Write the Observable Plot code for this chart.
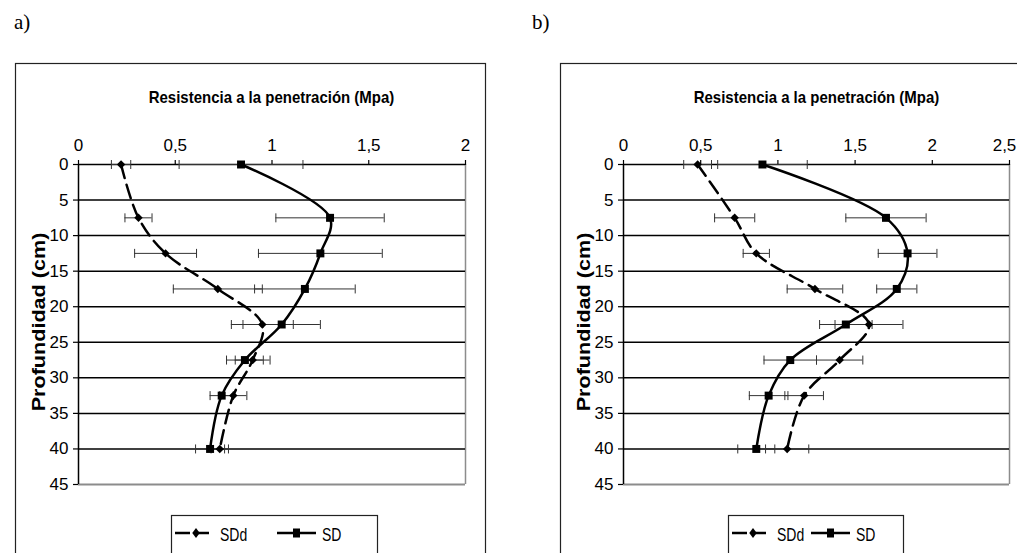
<!DOCTYPE html>
<html>
<head>
<meta charset="utf-8">
<script src="https://cdn.jsdelivr.net/npm/d3@7"></script>
<script src="https://cdn.jsdelivr.net/npm/@observablehq/plot@0.6"></script>
<style>
  body { margin: 0; background: #fff; }
  #page { position: relative; width: 1017px; height: 553px; overflow: hidden; background: #fff; }
  #page > svg { position: absolute; top: 0; }
  #overlay { left: 0; pointer-events: none; }
</style>
</head>
<body>
<div id="page"></div>
<script>
// ---- data ----
const depths = [0, 7.5, 12.5, 17.5, 22.5, 27.5, 32.5, 40];
const yTicks = [0, 5, 10, 15, 20, 25, 30, 35, 40, 45];
const xTicksA = [0, 0.5, 1, 1.5, 2];
const xTicksB = [0, 0.5, 1, 1.5, 2, 2.5];

// panel a)
const aSDd    = [0.22, 0.31, 0.45, 0.72, 0.95, 0.90, 0.80, 0.73];
const aSDdErr = [0.05, 0.07, 0.16, 0.23, 0.16, 0.09, 0.07, 0.045];
const aSD     = [0.84, 1.30, 1.25, 1.17, 1.05, 0.86, 0.74, 0.68];
const aSDErr  = [0.32, 0.28, 0.32, 0.26, 0.20, 0.095, 0.06, 0.075];

// panel b)
const bSDd    = [0.48, 0.72, 0.86, 1.24, 1.59, 1.40, 1.17, 1.06];
const bSDdErr = [0.09, 0.13, 0.085, 0.18, 0.22, 0.15, 0.125, 0.14];
const bSD     = [0.90, 1.70, 1.84, 1.77, 1.44, 1.08, 0.94, 0.86];
const bSDErr  = [0.29, 0.26, 0.19, 0.13, 0.17, 0.17, 0.125, 0.12];

const titleText = "Resistencia a la penetración (Mpa)";
const yLabelText = "Profundidad (cm)";
const seriesNames = ["SDd", "SD"];

// vertical cap symbol for error bars
const capSymbol = {
  draw(context, size) {
    const h = Math.sqrt(size / Math.PI);
    context.moveTo(0, -h);
    context.lineTo(0, h);
  }
};

const fmt = d => String(d).replace(".", ",");

function panel({xDomain, xTicks, sdd, sddErr, sd, sdErr, width, marginLeft, marginRight, lastLabelDx}) {
  const rows = depths.map((d, i) => ({
    depth: d,
    sdd: sdd[i], sddLo: sdd[i] - sddErr[i], sddHi: sdd[i] + sddErr[i],
    sd: sd[i], sdLo: sd[i] - sdErr[i], sdHi: sd[i] + sdErr[i]
  }));
  const yMax = yTicks[yTicks.length - 1];
  const lastTick = xTicks[xTicks.length - 1];
  const errStroke = "#333";
  return Plot.plot({
    width, height: 553,
    marginLeft, marginRight, marginTop: 164, marginBottom: 69,
    style: {background: "transparent", fontFamily: "'Liberation Sans', Arial, sans-serif", fontSize: "17px", color: "#000", overflow: "visible"},
    x: {domain: xDomain},
    y: {domain: [0, yMax], reverse: true},
    marks: [
      // plot-area borders
      Plot.ruleX([xDomain[1]], {stroke: "#8c8c8c", strokeWidth: 1.5}),
      Plot.ruleY([yMax], {stroke: "#8c8c8c", strokeWidth: 2}),
      // horizontal gridlines
      Plot.ruleY(yTicks.slice(0, -1), {stroke: "#000", strokeWidth: 1.5}),
      Plot.ruleX([xDomain[0]], {stroke: "#000", strokeWidth: 1.5}),
      Plot.axisX({anchor: "top", ticks: xTicks, tickFormat: d => (lastLabelDx && d === lastTick) ? "" : fmt(d),
        tickSize: 5, tickPadding: 9, label: null, strokeWidth: 1.2}),
      lastLabelDx ? Plot.axisX({anchor: "top", ticks: [lastTick], tickFormat: fmt, tickSize: 0, tickPadding: 14,
        dx: lastLabelDx, label: null}) : null,
      Plot.axisY({ticks: yTicks, tickSize: 5, tickPadding: 5, label: null, strokeWidth: 1.2}),
      // error bars
      Plot.ruleY(rows, {y: "depth", x1: "sddLo", x2: "sddHi", stroke: errStroke, strokeWidth: 1}),
      Plot.ruleY(rows, {y: "depth", x1: "sdLo", x2: "sdHi", stroke: errStroke, strokeWidth: 1}),
      Plot.dot(rows, {x: "sddLo", y: "depth", symbol: capSymbol, r: 4.5, stroke: errStroke, strokeWidth: 1, fill: "none"}),
      Plot.dot(rows, {x: "sddHi", y: "depth", symbol: capSymbol, r: 4.5, stroke: errStroke, strokeWidth: 1, fill: "none"}),
      Plot.dot(rows, {x: "sdLo", y: "depth", symbol: capSymbol, r: 4.5, stroke: errStroke, strokeWidth: 1, fill: "none"}),
      Plot.dot(rows, {x: "sdHi", y: "depth", symbol: capSymbol, r: 4.5, stroke: errStroke, strokeWidth: 1, fill: "none"}),
      // series lines
      Plot.line(rows, {x: "sdd", y: "depth", curve: "catmull-rom", stroke: "#000", strokeWidth: 2.5, strokeDasharray: "14,7"}),
      Plot.line(rows, {x: "sd", y: "depth", curve: "catmull-rom", stroke: "#000", strokeWidth: 2.5}),
      // markers
      Plot.dot(rows, {x: "sdd", y: "depth", symbol: "diamond2", r: 3.8, fill: "#000", stroke: "none"}),
      Plot.dot(rows, {x: "sd", y: "depth", symbol: "square", r: 4.5, fill: "#000", stroke: "none"})
    ]
  });
}

const page = document.getElementById("page");

const plotA = panel({xDomain: [0, 2], xTicks: xTicksA, sdd: aSDd, sddErr: aSDdErr, sd: aSD, sdErr: aSDErr,
  width: 500, marginLeft: 78, marginRight: 35, lastLabelDx: 0});
plotA.style.left = "0px";
page.appendChild(plotA);

const plotB = panel({xDomain: [0, 2.5], xTicks: xTicksB, sdd: bSDd, sddErr: bSDdErr, sd: bSD, sdErr: bSDErr,
  width: 517, marginLeft: 123, marginRight: 8, lastLabelDx: -5});
plotB.style.left = "500px";
page.appendChild(plotB);

// ---- overlay: frames, panel letters, titles, axis titles, legends ----
const ov = d3.select(page).append("svg").attr("id", "overlay")
  .attr("width", 1017).attr("height", 553)
  .style("font-family", "'Liberation Sans', Arial, sans-serif");

function decorate(dx, frameW, letter, legendX, legendW, sdLegendOffset) {
  ov.append("rect").attr("x", 15.5 + dx).attr("y", 63.5).attr("width", frameW).attr("height", 520)
    .attr("fill", "none").attr("stroke", "#222").attr("stroke-width", 1.2);
  ov.append("text").attr("x", 14 + (dx ? 518 : 0)).attr("y", 29)
    .attr("font-family", "'Liberation Serif', 'Times New Roman', serif").attr("font-size", 21).text(letter);
  ov.append("text").attr("transform", `translate(${271.5 + dx},103) scale(1,1.1)`)
    .attr("text-anchor", "middle").attr("font-weight", "bold").attr("font-size", 15).text(titleText);
  ov.append("text").attr("transform", `translate(${44.5 + dx},322) rotate(-90) scale(1.2,1)`)
    .attr("text-anchor", "middle").attr("font-weight", "bold").attr("font-size", 18).text(yLabelText);
  // legend
  const g = ov.append("g");
  g.append("rect").attr("x", legendX + 0.5).attr("y", 515.5).attr("width", legendW).attr("height", 60)
    .attr("fill", "#fff").attr("stroke", "#222").attr("stroke-width", 1.2);
  const ly = 533;
  const x0 = legendX + 4;
  g.append("line").attr("x1", x0).attr("x2", x0 + 37).attr("y1", ly).attr("y2", ly)
    .attr("stroke", "#000").attr("stroke-width", 2.5).attr("stroke-dasharray", "15,4");
  g.append("path").attr("d", d3.symbol(d3.symbolDiamond2, 45)()).attr("transform", `translate(${x0 + 21},${ly}) scale(0.9,1.2)`);
  g.append("text").attr("transform", `translate(${x0 + 45},541) scale(1,1.35)`).attr("font-size", 14).text(seriesNames[0]);
  const x1 = legendX + sdLegendOffset;
  g.append("line").attr("x1", x1).attr("x2", x1 + 39).attr("y1", ly).attr("y2", ly)
    .attr("stroke", "#000").attr("stroke-width", 2.5);
  g.append("rect").attr("x", x1 + 16).attr("y", ly - 4.5).attr("width", 7).attr("height", 9).attr("fill", "#000");
  g.append("text").attr("transform", `translate(${x1 + 45},541) scale(1,1.35)`).attr("font-size", 14).text(seriesNames[1]);
}

decorate(0, 470, "a)", 171, 206, 106);
decorate(545, 500, "b)", 728, 175, 83);
</script>
</body>
</html>
